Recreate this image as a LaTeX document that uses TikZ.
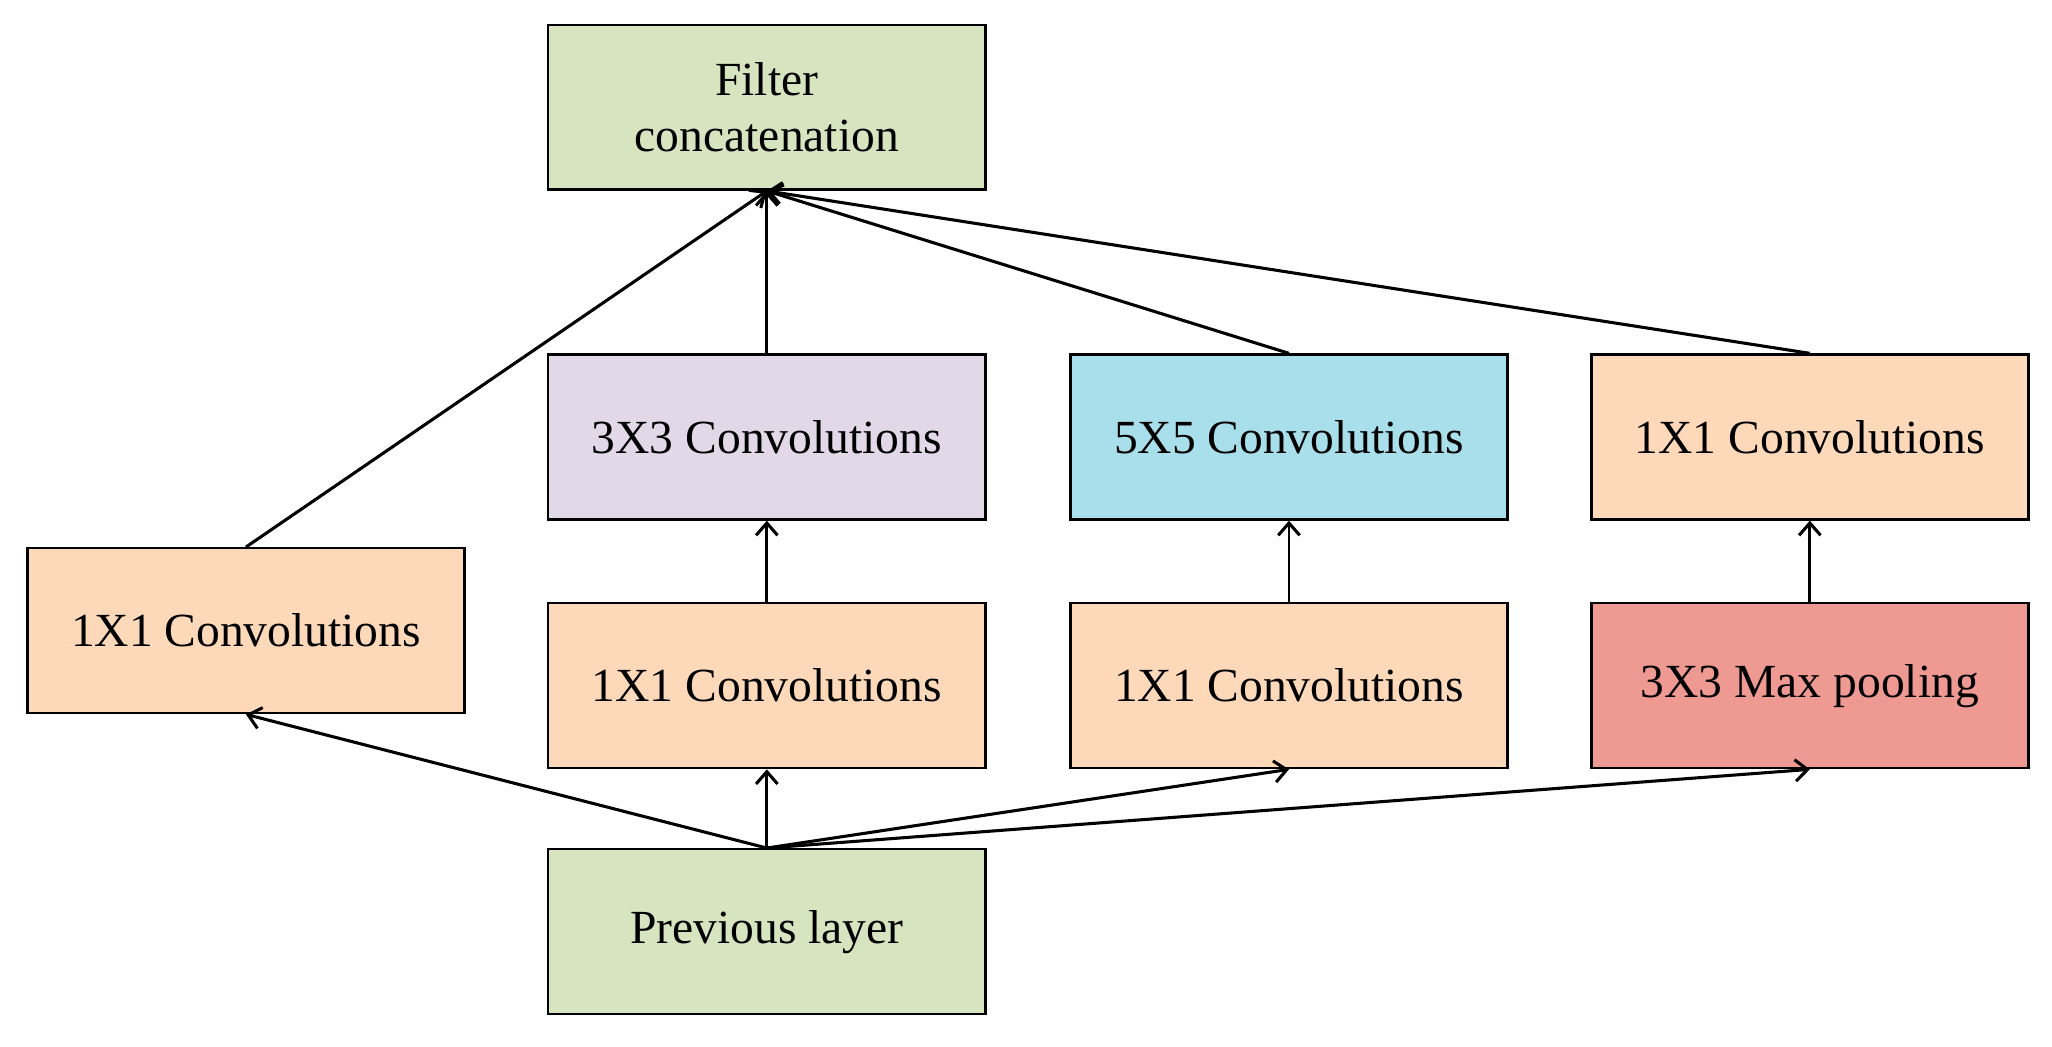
\documentclass[tikz,border=0pt]{standalone}
\usepackage{fontspec}
\setmainfont{Liberation Serif}
\usetikzlibrary{arrows.meta}
\definecolor{cgreen}{HTML}{D6E4BF}
\definecolor{clav}{HTML}{E2D8E8}
\definecolor{ccyan}{HTML}{A8DFEA}
\definecolor{cpeach}{HTML}{FDD9BA}
\definecolor{cred}{HTML}{EE9A92}
\begin{document}
\begin{tikzpicture}[x=0.03cm,y=-0.03cm,
  box/.style={draw=black,line width=1.6pt,minimum width=10.02cm,minimum height=3.78cm,inner sep=0pt,font=\fontsize{31}{37}\selectfont,align=center,anchor=north west},
  arr/.style={line width=2pt,-{Straight Barb[length=8pt,width=14pt,line width=2pt]}}]
\useasboundingbox (0,0) rectangle (1568,800);
\node[box,fill=cgreen] (fc) at (418,18) {Filter\\concatenation};
\node[box,fill=clav] (c3) at (418,270) {3X3 Convolutions};
\node[box,fill=ccyan] (c5) at (817,270) {5X5 Convolutions};
\node[box,fill=cpeach] (r1) at (1215,270) {1X1 Convolutions};
\node[box,fill=cpeach] (l1) at (20,418) {1X1 Convolutions};
\node[box,fill=cpeach] (m1) at (418,460) {1X1 Convolutions};
\node[box,fill=cpeach] (m2) at (817,460) {1X1 Convolutions};
\node[box,fill=cred] (mp) at (1215,460) {3X3 Max pooling};
\node[box,fill=cgreen] (pl) at (418,648) {Previous layer};
\draw[arr] (pl.north) -- (l1.south);
\draw[arr] (pl.north) -- (m1.south);
\draw[arr] (pl.north) -- (m2.south);
\draw[arr] (pl.north) -- (mp.south);
\draw[arr] (m1.north) -- (c3.south);
\draw[arr,line width=1.4pt] (m2.north) -- (c5.south);
\draw[arr] (mp.north) -- (r1.south);
\draw[arr] (l1.north) -- (fc.south);
\draw[arr] (c3.north) -- (fc.south);
\draw[arr] (c5.north) -- (fc.south);
\draw[arr] (r1.north) -- (fc.south);
\end{tikzpicture}
\end{document}
